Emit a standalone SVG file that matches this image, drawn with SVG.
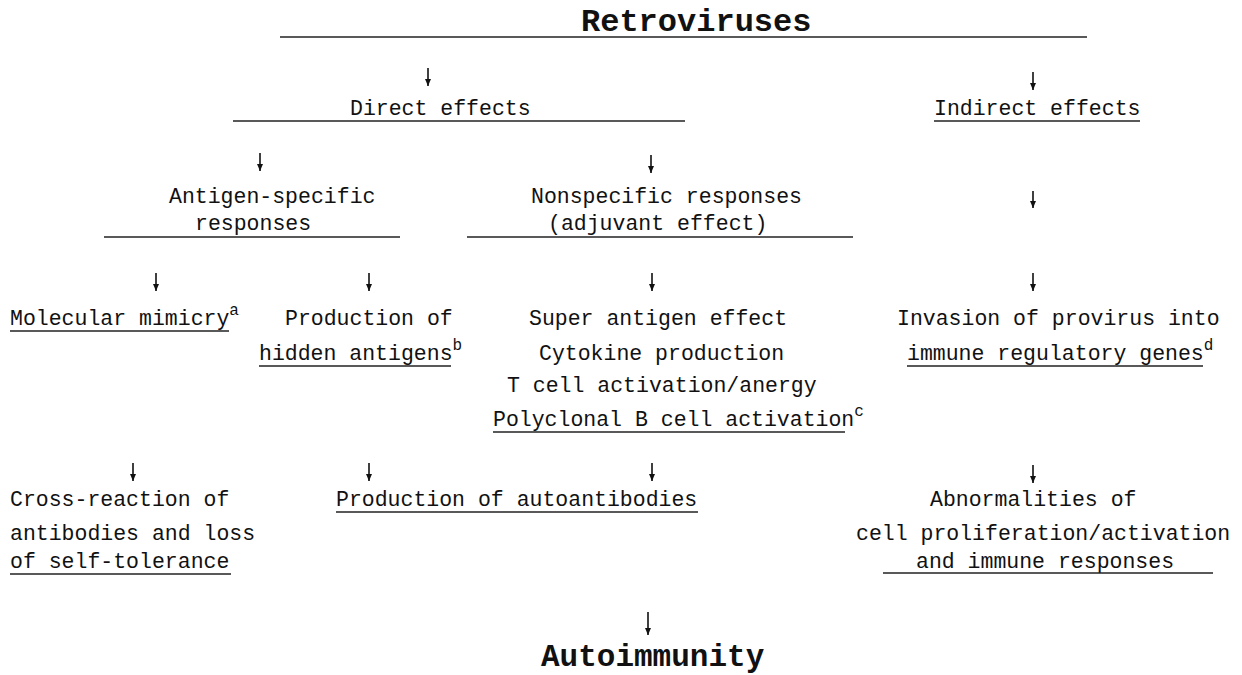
<svg xmlns="http://www.w3.org/2000/svg" width="1242" height="675" viewBox="0 0 1242 675">
<defs>
<marker id="ah" markerWidth="8" markerHeight="8" refX="7" refY="4" orient="auto" markerUnits="userSpaceOnUse" viewBox="0 0 8 8">
<path d="M0,1 L7,4 L0,7 Z" fill="#111"/>
</marker>
<style>
text{font-family:"Liberation Mono","Courier New",monospace;fill:#111;font-size:21.5px}
.b{font-weight:bold;font-size:32px}
.b2{font-weight:bold;font-size:31px}
.sup{font-size:16px}
.ul{stroke:#222;stroke-width:1.3}
.ar{stroke:#111;stroke-width:1.6;marker-end:url(#ah)}
</style>
</defs>
<rect width="1242" height="675" fill="#fff"/>
<g id="connectors">
<line class="ar" x1="428" y1="68" x2="428" y2="86"/>
<line class="ar" x1="1033" y1="72" x2="1033" y2="90"/>
<line class="ar" x1="260" y1="153" x2="260" y2="171"/>
<line class="ar" x1="651" y1="155" x2="651" y2="173"/>
<line class="ar" x1="1033" y1="191" x2="1033" y2="208"/>
<line class="ar" x1="156" y1="273" x2="156" y2="291"/>
<line class="ar" x1="369" y1="273" x2="369" y2="291"/>
<line class="ar" x1="652" y1="273" x2="652" y2="291"/>
<line class="ar" x1="1033" y1="273" x2="1033" y2="291"/>
<line class="ar" x1="133" y1="463" x2="133" y2="481"/>
<line class="ar" x1="369" y1="463" x2="369" y2="481"/>
<line class="ar" x1="652" y1="463" x2="652" y2="481"/>
<line class="ar" x1="1033" y1="465" x2="1033" y2="483"/>
<line class="ar" x1="648" y1="612" x2="648" y2="635"/>
</g>
<g id="retroviruses">
<text class="b" x="581" y="31">Retroviruses</text>
<line class="ul" x1="280" y1="37" x2="1087" y2="37"/>
</g>
<g id="direct">
<text x="350" y="115">Direct effects</text>
<line class="ul" x1="233" y1="121" x2="685" y2="121"/>
</g>
<g id="indirect">
<text x="934" y="115">Indirect effects</text>
<line class="ul" x1="934" y1="121" x2="1140" y2="121"/>
</g>
<g id="antigen-specific">
<text x="169" y="203">Antigen-specific</text>
<text x="195" y="230">responses</text>
<line class="ul" x1="104" y1="237" x2="400" y2="237"/>
</g>
<g id="nonspecific">
<text x="531" y="203">Nonspecific responses</text>
<text x="548" y="230">(adjuvant effect)</text>
<line class="ul" x1="467" y1="237" x2="853" y2="237"/>
</g>
<g id="mimicry">
<text x="10" y="325">Molecular mimicry<tspan class="sup" dy="-10">a</tspan></text>
<line class="ul" x1="10" y1="331" x2="229" y2="331"/>
</g>
<g id="hidden">
<text x="285" y="325">Production of</text>
<text x="259" y="360">hidden antigens<tspan class="sup" dy="-10">b</tspan></text>
<line class="ul" x1="259" y1="366" x2="451" y2="366"/>
</g>
<g id="adjuvant-items">
<text x="529" y="325">Super antigen effect</text>
<text x="539" y="360">Cytokine production</text>
<text x="507" y="392">T cell activation/anergy</text>
<text x="493" y="426">Polyclonal B cell activation<tspan class="sup" dy="-10">c</tspan></text>
<line class="ul" x1="493" y1="432" x2="845" y2="432"/>
</g>
<g id="invasion">
<text x="897" y="325">Invasion of provirus into</text>
<text x="907" y="360">immune regulatory genes<tspan class="sup" dy="-10">d</tspan></text>
<line class="ul" x1="907" y1="366" x2="1203" y2="366"/>
</g>
<g id="cross-reaction">
<text x="10" y="506">Cross-reaction of</text>
<text x="10" y="540">antibodies and loss</text>
<text x="10" y="568">of self-tolerance</text>
<line class="ul" x1="10" y1="574" x2="231" y2="574"/>
</g>
<g id="autoantibodies">
<text x="336" y="506">Production of autoantibodies</text>
<line class="ul" x1="336" y1="512" x2="698" y2="512"/>
</g>
<g id="abnormalities">
<text x="930" y="506">Abnormalities of</text>
<text x="856" y="540">cell proliferation/activation</text>
<text x="916" y="568">and immune responses</text>
<line class="ul" x1="883" y1="573" x2="1213" y2="573"/>
</g>
<g id="autoimmunity">
<text class="b2" x="541" y="666">Autoimmunity</text>
</g>
</svg>
